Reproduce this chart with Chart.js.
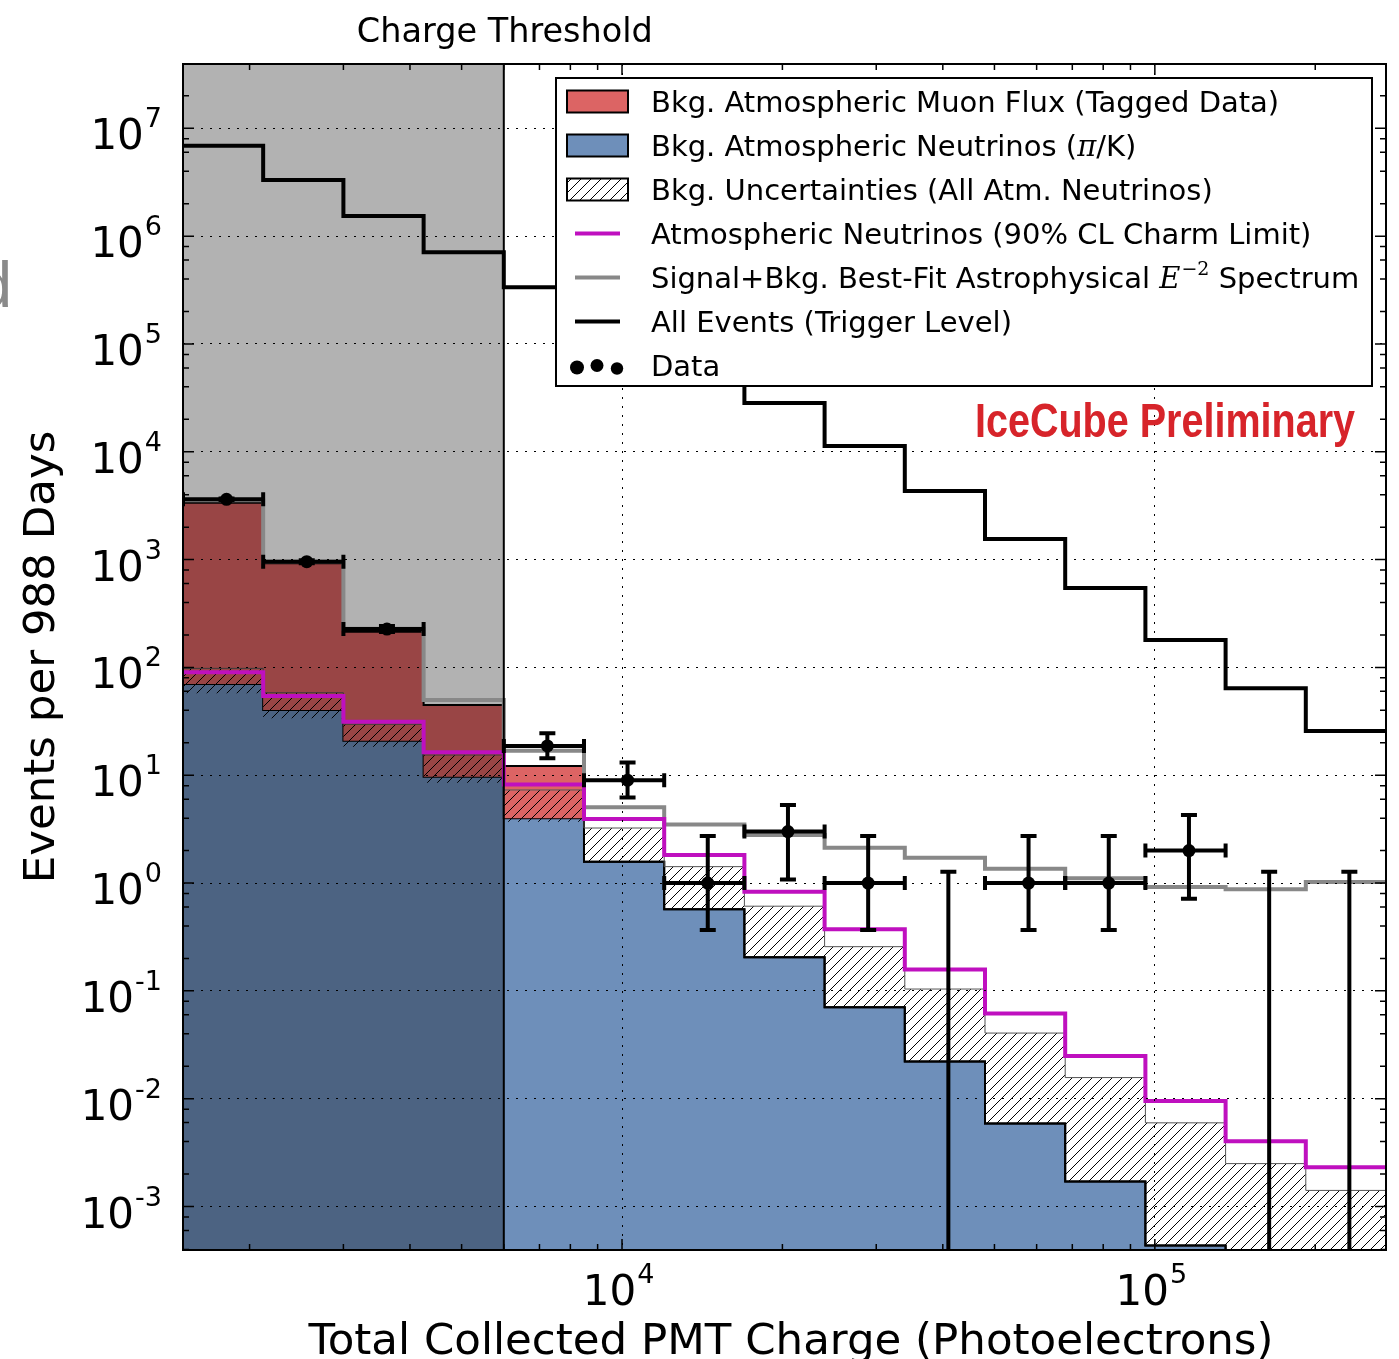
<!DOCTYPE html>
<html>
<head>
<meta charset="utf-8">
<script src="https://cdn.jsdelivr.net/npm/chart.js@4.4.0/dist/chart.umd.min.js"></script>
<style>
  html, body { margin: 0; padding: 0; background: #fff; }
  canvas { display: block; }
</style>
</head>
<body>
<canvas id="chart" width="1399" height="1359"></canvas>
<script>
// bin edges in photoelectrons (15 bins)
const binEdges = [1500, 2121, 3000, 4243, 6000, 8485, 12000, 16971, 24000, 33941, 48000, 67882, 96000, 135765, 192000, 271529];
const thresholdPE = 6000;

// event rates per bin (events per 988 days)
const allEvents = [6.9e6, 3.32e6, 1.54e6, 7.1e5, 3.36e5, 1.45e5, 6.4e4, 2.84e4, 1.13e4, 4330, 1550, 546, 180, 64, 25.7];
const bestFit   = [3550, 960, 228, 49.9, 16.9, 5.04, 3.5, 2.79, 2.13, 1.72, 1.36, 1.11, 0.92, 0.875, 1.02];
const charmLimit = [90, 54.3, 31.3, 16.3, 8.2, 3.93, 1.82, 0.83, 0.372, 0.158, 0.0618, 0.0249, 0.00952, 0.00404, 0.00231];
const atmNu     = [70, 40.3, 20.9, 9.7, 3.98, 1.58, 0.57, 0.205, 0.0703, 0.0221, 0.0059, 0.00171, 0.000435, 0.00012, 0.00003];
const muonFlux  = [3300, 885, 193, 35, 8.2, 0, 0, 0, 0, 0, 0, 0, 0, 0, 0];
const uncLow    = [57.5, 33.7, 18.4, 8.5, 3.7, 1.58, 0.57, 0.205, 0.0703, 0.0221, 0.0059, 0.00171, 0.000435, 0.00012, 0.00003];
const uncHigh   = [98, 58.2, 29.7, 15.4, 7.3, 3.24, 1.42, 0.61, 0.257, 0.104, 0.0406, 0.0157, 0.00597, 0.0025, 0.00141];

// observed data (null = not shown, 0 = upper limit only)
const dataCounts = [3625, 957, 227, null, 18.7, 9.0, 1, 3, 1, 0, 1, 1, 2, 0, 0];
const dataLo     = [3570, 926, 213, null, 14.4, 6.2, 0.367, 1.08, 0.367, 0, 0.367, 0.367, 0.717, 0, 0];
const dataHi     = [3685, 988, 242, null, 24.5, 13.1, 2.73, 5.3, 2.73, 1.27, 2.73, 2.73, 4.27, 1.27, 1.27];

const xDecades = [1e4, 1e5];
const yDecades = [1e-3, 1e-2, 1e-1, 1, 10, 100, 1e3, 1e4, 1e5, 1e6, 1e7];

const legendLabels = [
  'Bkg. Atmospheric Muon Flux (Tagged Data)',
  'Bkg. Atmospheric Neutrinos (π/K)',
  'Bkg. Uncertainties (All Atm. Neutrinos)',
  'Atmospheric Neutrinos (90% CL Charm Limit)',
  'Signal+Bkg. Best-Fit Astrophysical E−2 Spectrum',
  'All Events (Trigger Level)',
  'Data'
];

const RED = '#dc6464', BLUE = '#6e8fba', MAGENTA = '#bf10bf', GREY = '#888888';

// step histogram points at bin edges
const steps = vals => binEdges.map((e, i) => ({ x: e, y: vals[Math.min(i, vals.length - 1)] }));
const muonStack = atmNu.map((v, i) => v + muonFlux[i]);
const binCenters = binEdges.slice(0, -1).map((e, i) => (e + binEdges[i + 1]) / 2);

function hatchPattern() {
  const c = document.createElement('canvas');
  c.width = c.height = 10;
  const g = c.getContext('2d');
  g.strokeStyle = '#000';
  g.lineWidth = 1;
  g.beginPath();
  g.moveTo(0, 10); g.lineTo(10, 0);
  g.moveTo(-5, 5); g.lineTo(5, -5);
  g.moveTo(5, 15); g.lineTo(15, 5);
  g.stroke();
  return g.createPattern(c, 'repeat');
}
const hatch = hatchPattern();

const FONT = '"DejaVu Sans", sans-serif';

// 10^n labels
function powLabel(ctx, x, y, exp, align) {
  ctx.font = '42px ' + FONT;
  const w1 = ctx.measureText('10').width;
  ctx.font = '27px ' + FONT;
  const w2 = ctx.measureText(exp).width;
  let x0 = align === 'right' ? x - w1 - w2 : x - (w1 + w2) / 2;
  ctx.textAlign = 'left';
  ctx.textBaseline = 'alphabetic';
  ctx.font = '42px ' + FONT;
  ctx.fillText('10', x0, y);
  ctx.font = '27px ' + FONT;
  ctx.fillText(exp, x0 + w1 + 1, y - 22);
}

// draws text made of pieces in different fonts
function richText(ctx, parts, x, y) {
  parts.forEach(p => {
    ctx.font = p.font;
    ctx.fillText(p.t, x, y + (p.dy || 0));
    x += ctx.measureText(p.t).width + (p.gap || 0);
  });
}

const errorBars = {
  id: 'errorBars',
  afterDatasetsDraw(chart) {
    const { ctx, chartArea: a, scales: { x, y } } = chart;
    ctx.save();
    ctx.beginPath();
    ctx.rect(a.left, a.top, a.right - a.left, a.bottom - a.top);
    ctx.clip();
    ctx.strokeStyle = '#000';
    ctx.lineWidth = 4;
    dataCounts.forEach((n, i) => {
      if (n === null) return;
      const cx = x.getPixelForValue(binCenters[i]);
      const top = y.getPixelForValue(dataHi[i]);
      const bot = dataLo[i] > 0 ? y.getPixelForValue(dataLo[i]) : a.bottom + 5;
      ctx.beginPath();
      ctx.moveTo(cx, top); ctx.lineTo(cx, bot);
      ctx.moveTo(cx - 8, top); ctx.lineTo(cx + 8, top);
      if (dataLo[i] > 0) { ctx.moveTo(cx - 8, bot); ctx.lineTo(cx + 8, bot); }
      if (n > 0) {
        const py = y.getPixelForValue(n);
        const l = x.getPixelForValue(binEdges[i]);
        const r = x.getPixelForValue(binEdges[i + 1]);
        ctx.moveTo(l, py); ctx.lineTo(r, py);
        ctx.moveTo(l, py - 7); ctx.lineTo(l, py + 7);
        ctx.moveTo(r, py - 7); ctx.lineTo(r, py + 7);
      }
      ctx.stroke();
    });
    ctx.restore();
  }
};

const frameAndText = {
  id: 'frameAndText',
  afterDraw(chart) {
    const { ctx, chartArea: a, scales: { x, y } } = chart;
    ctx.save();
    ctx.fillStyle = '#000';
    ctx.strokeStyle = '#000';

    // threshold line
    const tx = x.getPixelForValue(thresholdPE);
    ctx.lineWidth = 2;
    ctx.beginPath(); ctx.moveTo(tx, a.top); ctx.lineTo(tx, a.bottom); ctx.stroke();

    // minor / major ticks, inward on all sides
    ctx.lineWidth = 1.5;
    ctx.beginPath();
    for (let d = 1e3; d <= 1e5; d *= 10) {
      for (let m = 1; m <= 9; m++) {
        const v = m * d;
        if (v < x.min || v > x.max) continue;
        const px = x.getPixelForValue(v), len = m === 1 ? 11 : 6;
        ctx.moveTo(px, a.bottom); ctx.lineTo(px, a.bottom - len);
        ctx.moveTo(px, a.top); ctx.lineTo(px, a.top + len);
      }
    }
    for (let d = 1e-4; d <= 1e7; d *= 10) {
      [1, 2, 4, 6, 8].forEach(m => {
        const v = m * d;
        if (v < y.min || v > y.max) return;
        const py = y.getPixelForValue(v), len = m === 1 ? 11 : 6;
        ctx.moveTo(a.left, py); ctx.lineTo(a.left + len, py);
        ctx.moveTo(a.right, py); ctx.lineTo(a.right - len, py);
      });
    }
    ctx.stroke();

    // frame
    ctx.lineWidth = 2;
    ctx.strokeRect(a.left, a.top, a.right - a.left, a.bottom - a.top);

    // tick labels
    yDecades.forEach(v => {
      const e = Math.round(Math.log10(v));
      powLabel(ctx, 161, y.getPixelForValue(v) + 21, String(e), 'right');
    });
    xDecades.forEach(v => {
      const e = Math.round(Math.log10(v));
      powLabel(ctx, x.getPixelForValue(v) - 4, 1305, String(e), 'center');
    });

    // axis titles
    ctx.textAlign = 'center';
    ctx.font = '43.5px ' + FONT;
    ctx.fillText('Total Collected PMT Charge (Photoelectrons)', 791, 1354);
    ctx.save();
    ctx.translate(54, (a.top + a.bottom) / 2);
    ctx.rotate(-Math.PI / 2);
    ctx.fillText('Events per 988 Days', 0, 0);
    ctx.restore();

    ctx.font = '33.5px ' + FONT;
    ctx.fillText('Charge Threshold', tx + 1, 42);

    // cut-off glyph at left edge
    ctx.fillStyle = '#8a8a8a';
    ctx.textAlign = 'right';
    ctx.font = '64px "Liberation Sans", sans-serif';
    ctx.fillText('d', 12, 307);

    // IceCube Preliminary
    ctx.fillStyle = '#d7242a';
    ctx.textAlign = 'left';
    ctx.font = 'bold 48px "Liberation Sans", sans-serif';
    const iw = ctx.measureText('IceCube Preliminary').width;
    ctx.save();
    ctx.translate(975, 437);
    ctx.scale(380 / iw, 1);
    ctx.fillText('IceCube Preliminary', 0, 0);
    ctx.restore();

    // legend
    const L = 556, T = 78, R = 1372, B = 386;
    ctx.fillStyle = '#fff';
    ctx.fillRect(L, T, R - L, B - T);
    ctx.strokeStyle = '#000';
    ctx.lineWidth = 2;
    ctx.strokeRect(L, T, R - L, B - T);
    const rowY = i => 101.5 + 44 * i;
    const patch = (i, fill) => {
      const cy = rowY(i);
      ctx.fillStyle = '#fff';
      ctx.fillRect(567, cy - 11, 61, 22);
      ctx.fillStyle = fill;
      ctx.fillRect(567, cy - 11, 61, 22);
      ctx.lineWidth = 2;
      ctx.strokeRect(567, cy - 11, 61, 22);
    };
    patch(0, RED);
    patch(1, BLUE);
    patch(2, hatch);
    [[3, MAGENTA], [4, GREY], [5, '#000']].forEach(([i, c]) => {
      ctx.strokeStyle = c;
      ctx.lineWidth = 4;
      ctx.beginPath(); ctx.moveTo(575, rowY(i)); ctx.lineTo(620, rowY(i)); ctx.stroke();
    });
    ctx.fillStyle = '#000';
    [[577, 2, 7], [597, 0, 6.5], [617, 3, 6.2]].forEach(([dx, dy, r]) => {
      ctx.beginPath(); ctx.arc(dx, rowY(6) + dy, r, 0, Math.PI * 2); ctx.fill();
    });
    ctx.textAlign = 'left';
    const LF = '29px ' + FONT, MF = 'italic 29px "DejaVu Serif", serif';
    const tX = 651, bl = 10.5;
    richText(ctx, [{ t: legendLabels[0], font: LF }], tX, rowY(0) + bl);
    richText(ctx, [{ t: 'Bkg. Atmospheric Neutrinos (', font: LF }, { t: 'π', font: MF }, { t: '/K)', font: LF }], tX, rowY(1) + bl);
    richText(ctx, [{ t: legendLabels[2], font: LF }], tX, rowY(2) + bl);
    richText(ctx, [{ t: legendLabels[3], font: LF }], tX, rowY(3) + bl);
    richText(ctx, [
      { t: 'Signal+Bkg. Best-Fit Astrophysical ', font: LF },
      { t: 'E', font: MF, gap: 1 },
      { t: '−2', font: '19px "DejaVu Serif", serif', dy: -13 },
      { t: ' Spectrum', font: LF }
    ], tX, rowY(4) + bl);
    richText(ctx, [{ t: legendLabels[5], font: LF }], tX, rowY(5) + bl);
    richText(ctx, [{ t: legendLabels[6], font: LF }], tX, rowY(6) + bl);

    ctx.restore();
  }
};

const lineDefaults = { stepped: 'before', pointRadius: 0, tension: 0 };

new Chart(document.getElementById('chart'), {
  type: 'line',
  data: {
    datasets: [
      { ...lineDefaults, label: 'atmNu', data: steps(atmNu), fill: 'start', backgroundColor: BLUE, borderColor: '#000', borderWidth: 2, order: 10 },
      { ...lineDefaults, label: 'muon', data: steps(muonStack), fill: 0, backgroundColor: RED, borderColor: '#000', borderWidth: 2, order: 9 },
      { ...lineDefaults, label: 'uncLow', data: steps(uncLow), fill: false, borderWidth: 0, borderColor: 'rgba(0,0,0,0)', order: 8 },
      { ...lineDefaults, label: 'uncHigh', data: steps(uncHigh), fill: 2, backgroundColor: hatch, borderColor: '#555', borderWidth: 1, order: 7 },
      { ...lineDefaults, label: 'threshold', stepped: false, data: [{ x: binEdges[0], y: 3.95e7 }, { x: thresholdPE, y: 3.95e7 }], fill: 'start', backgroundColor: 'rgba(0,0,0,0.3)', borderWidth: 0, borderColor: 'rgba(0,0,0,0)', order: 6 },
      { ...lineDefaults, label: 'bestFit', data: steps(bestFit), fill: false, borderColor: GREY, borderWidth: 4, order: 3 },
      { ...lineDefaults, label: 'charm', data: steps(charmLimit), fill: false, borderColor: MAGENTA, borderWidth: 4, order: 2 },
      { ...lineDefaults, label: 'all', data: steps(allEvents), fill: false, borderColor: '#000', borderWidth: 4, order: 1 },
      {
        label: 'data', showLine: false, order: 0,
        data: dataCounts.map((n, i) => ({ x: binCenters[i], y: n })).filter(p => p.y),
        pointRadius: 6.5, pointBackgroundColor: '#000', pointBorderWidth: 0
      }
    ]
  },
  options: {
    responsive: false,
    animation: false,
    devicePixelRatio: 1,
    layout: { padding: { left: 183, top: 64, right: 13, bottom: 109 } },
    plugins: { legend: { display: false }, tooltip: { enabled: false } },
    scales: {
      x: {
        type: 'logarithmic', min: 1500, max: 271529,
        ticks: { display: false },
        grid: { drawTicks: false, color: '#000', lineWidth: 1, z: 1 },
        border: { display: false, dash: [2, 7] },
        afterBuildTicks: s => { s.ticks = xDecades.map(v => ({ value: v })); }
      },
      y: {
        type: 'logarithmic', min: 3.95e-4, max: 3.95e7,
        ticks: { display: false },
        grid: { drawTicks: false, color: '#000', lineWidth: 1, z: 1 },
        border: { display: false, dash: [2, 7] },
        afterBuildTicks: s => { s.ticks = yDecades.map(v => ({ value: v })); }
      }
    }
  },
  plugins: [errorBars, frameAndText]
});
</script>
</body>
</html>
